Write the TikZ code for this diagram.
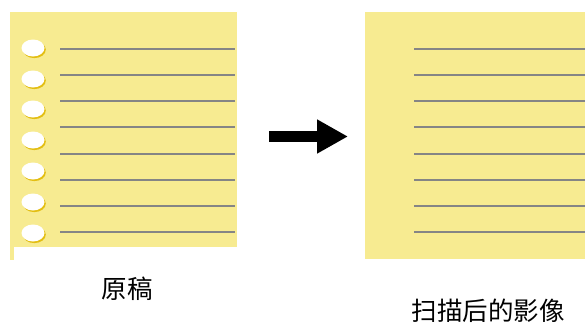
\documentclass[tikz,border=0pt]{standalone}
\usepackage{fontspec}
\newfontfamily\cjk{Noto Sans CJK SC}
\usepackage{tikz}
\usetikzlibrary{arrows.meta,shadows,shapes.geometric}
\definecolor{paper}{HTML}{F7EB91}
\definecolor{gold}{HTML}{E3BE12}
\definecolor{rule}{HTML}{858585}

\begin{document}
\begin{tikzpicture}[
  x=1pt,y=-1pt,
  page/.style={fill=paper,draw=none,inner sep=0pt,anchor=north west},
  hole/.style={ellipse,fill=white,minimum width=23pt,minimum height=17pt,inner sep=0pt,
               drop shadow={shadow xshift=1.3pt,shadow yshift=-1.6pt,fill=gold,opacity=1}},
  ruling/.style={draw=rule,line width=1.6pt},
  caption/.style={font=\cjk\fontsize{25.5}{30}\selectfont,inner sep=0pt},
  push/.style={-{Triangle[length=31pt,width=32pt]},line width=11pt}
]
  \useasboundingbox (0,0) rectangle (585,324);

  % original page with punched holes
  \node[page,minimum width=227pt,minimum height=235pt] (orig) at (10,12) {};
  \fill[paper] (10,247) rectangle (14,260);
  \node[hole] (h1) at (33,48) {};
  \node[hole] (h2) at (33,79) {};
  \node[hole] (h3) at (33,109) {};
  \node[hole] (h4) at (33,140) {};
  \node[hole] (h5) at (33,171) {};
  \node[hole] (h6) at (33,202) {};
  \node[hole] (h7) at (33,233) {};
  \draw[ruling] (60,49) -- (235,49);
  \draw[ruling] (60,75) -- (235,75);
  \draw[ruling] (60,101) -- (235,101);
  \draw[ruling] (60,127) -- (235,127);
  \draw[ruling] (60,154) -- (235,154);
  \draw[ruling] (60,180) -- (235,180);
  \draw[ruling] (60,206) -- (235,206);
  \draw[ruling] (60,232) -- (235,232);

  % scanned image
  \node[page,minimum width=220pt,minimum height=247pt] (scan) at (365,12) {};
  \draw[ruling] (414,49) -- (585,49);
  \draw[ruling] (414,75) -- (585,75);
  \draw[ruling] (414,101) -- (585,101);
  \draw[ruling] (414,127) -- (585,127);
  \draw[ruling] (414,154) -- (585,154);
  \draw[ruling] (414,180) -- (585,180);
  \draw[ruling] (414,206) -- (585,206);
  \draw[ruling] (414,232) -- (585,232);

  \coordinate (from) at (269,136.5);
  \coordinate (to) at (348,136.5);
  \draw[push] (from) -- (to);

  \node[caption] (origcap) at (127,289) {原稿};
  \node[caption] (scancap) at (488,311) {扫描后的影像};
\end{tikzpicture}
\end{document}
